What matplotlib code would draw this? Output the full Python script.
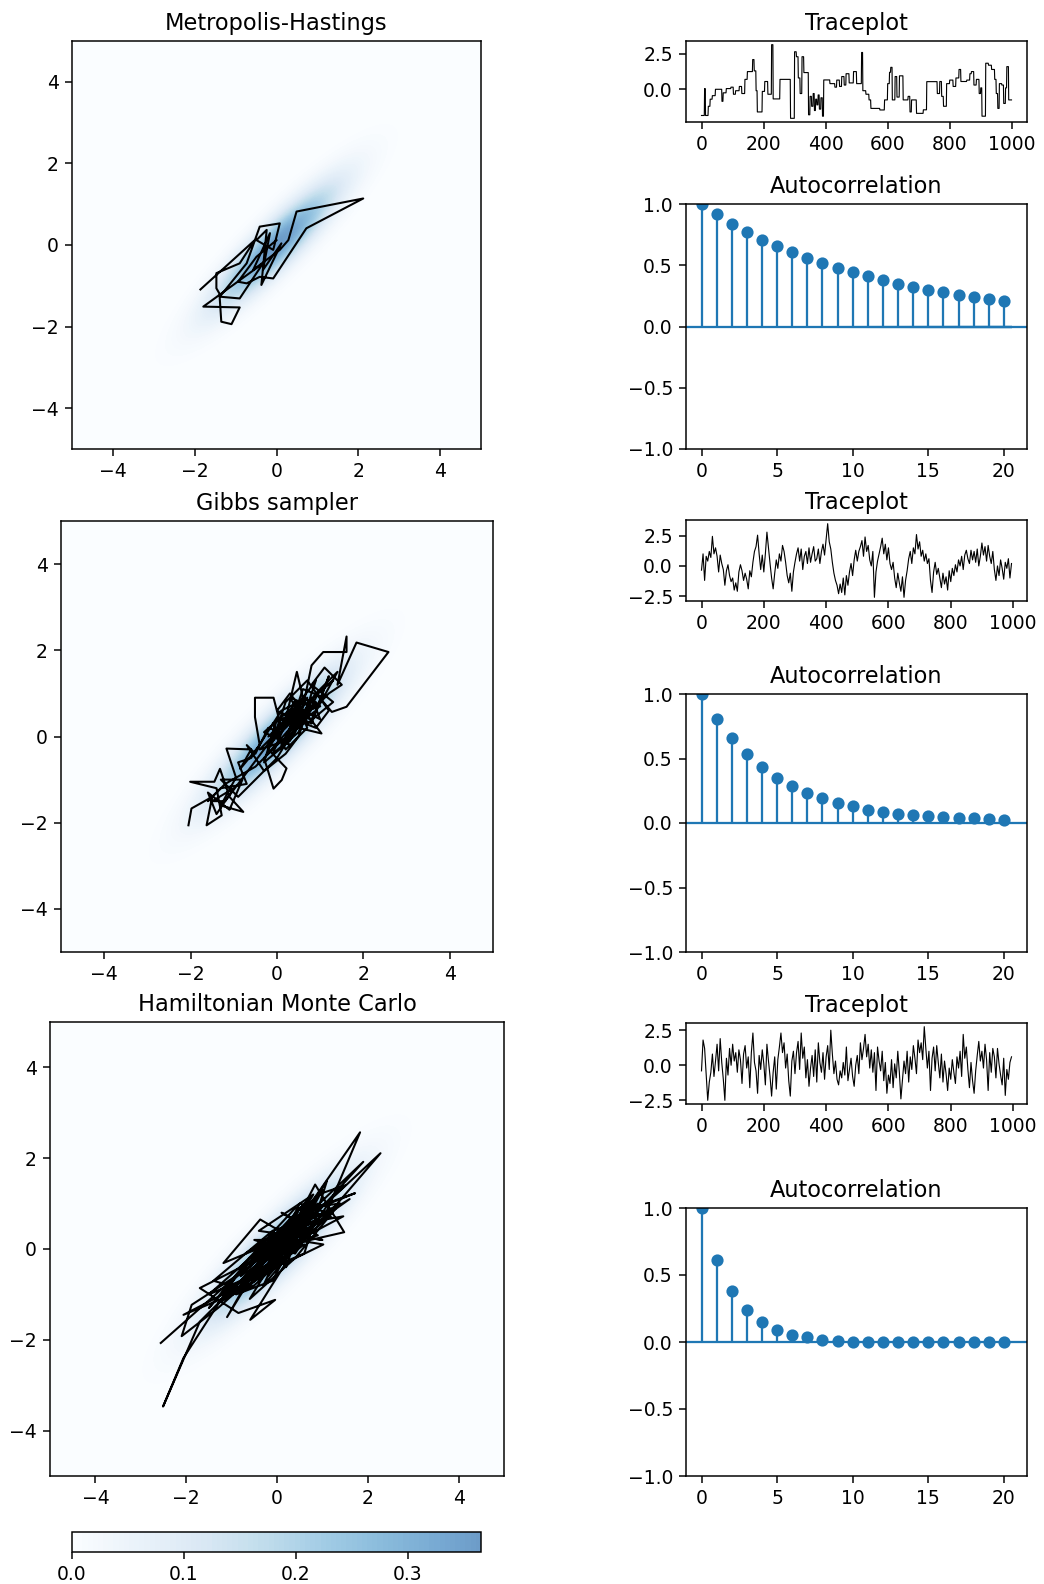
import numpy as np
import matplotlib
matplotlib.use("Agg")
import matplotlib.pyplot as plt
from matplotlib.colors import ListedColormap

# ---------------- data ----------------
titles = ["Metropolis-Hastings", "Gibbs sampler", "Hamiltonian Monte Carlo"]
rho = 0.9  # correlation of the bivariate normal target

# Metropolis-Hastings sample path (first part of the chain)
mh_path_x = [-1.86, -0.53, -0.90, -1.47, -1.47, -1.35, -0.90, -0.33, -1.79, -0.90,
             -1.10, -1.35, -1.39, -0.73, -0.41, 0.08, -0.08, -0.49, -0.24, -0.37,
             0.12, -0.33, -0.16, -0.57, 0.08, 0.29, 0.49, 2.12, 0.73, -0.08,
             -0.41, -0.73, -0.94, -0.49, 0.00]
mh_path_y = [-1.09, 0.12, -0.45, -0.69, -1.06, -1.27, -1.31, -0.45, -1.51, -1.53,
             -1.94, -1.88, -1.27, -0.45, 0.45, 0.53, -0.12, 0.12, 0.37, -0.98,
             0.04, -0.61, 0.29, -0.61, -0.12, 0.12, 0.82, 1.14, 0.41, -0.82,
             -0.78, -0.94, -0.90, -0.29, 0.12]

# Gibbs sample path
gibbs_path_x = [-2.05, -1.98, -1.50, -1.63, -1.28, -1.40, -2.01, -1.45, -1.32, -1.10,
                -0.78, -1.30, -0.95, -1.17, -0.60, -0.85, -0.40, -0.51, -0.51, -0.08,
                0.10, 0.30, -0.20, 0.22, 0.11, -0.08, -0.30, 0.40, 0.60, 0.46,
                0.20, 0.70, 1.03, 0.50, 0.80, 1.07, 1.61, 1.61, 1.40, 1.84,
                2.58, 1.61, 1.27, 0.90, 1.30, 0.60, 0.00, 0.30, -0.30, 0.50,
                0.10, -0.60, -0.90, -0.70, -1.30, -1.60, -1.20, -0.50, 0.10, 0.40,
                0.90, 0.60, 1.00, 1.40, 0.80, 0.30, -0.10, 0.20, 0.70, 0.50,
                0.20, 0.60, 0.30, 0.80, 0.40, 0.90, 0.10, 0.50, -0.20, 0.70,
                0.30, 1.10, 0.60, 0.20, -0.40, 0.40, 0.80, 1.20, 0.90, 0.50,
                0.00, -0.30, 0.30, 0.70, 1.00, 0.60, 0.20, -0.10, 0.50, 0.90,
                -1.20, -1.50, -1.00, -1.40, -1.60, -1.10, -0.80, -1.30, -0.90, -0.40,
                0.00, 0.30, 0.60, 0.90, 1.20, 1.50, 1.10, 0.80, 1.30, 0.70,
                0.40, 0.10, -0.20, -0.50, -0.70, -0.30, 0.20, 0.50, 0.80, 1.00,
                0.60, 0.30, 0.00, 0.40, 0.90, 1.20, 0.70, 0.20, -0.10, 0.50]
gibbs_path_y = [-2.06, -1.67, -1.40, -2.06, -1.83, -1.20, -1.05, -1.05, -0.75, -1.40,
                -1.75, -1.60, -0.95, -0.28, -0.30, -0.75, -0.20, 0.45, 0.90, 0.90,
                0.20, 0.60, -0.30, -0.74, -1.01, -1.21, -0.50, 0.30, 0.90, 1.50,
                0.40, 0.50, 0.07, 0.20, 1.65, 1.96, 1.96, 2.32, 1.20, 2.18,
                1.96, 0.69, 0.57, 1.00, 1.30, 0.70, 0.00, -0.20, 0.10, 0.80,
                0.60, -0.50, -0.60, -1.10, -1.20, -1.50, -1.10, -0.70, -0.10, 0.10,
                0.80, 0.30, 1.10, 1.50, 0.40, 0.50, 0.30, -0.30, 0.20, 0.70,
                0.50, 0.40, 0.90, 0.70, 0.10, 1.00, -0.20, 0.60, 0.00, 0.90,
                0.20, 0.90, 1.10, -0.10, -0.30, 0.50, 0.30, 1.40, 0.60, 0.30,
                0.40, -0.60, -0.10, 0.60, 0.70, 0.90, 0.30, -0.40, 0.10, 1.30,
                -1.50, -1.50, -1.20, -1.80, -1.30, -1.70, -1.00, -1.00, -1.40, -0.90,
                -0.50, 0.00, 0.50, 0.70, 1.00, 1.20, 1.60, 1.20, 0.80, 0.30,
                0.80, 0.10, 0.20, -0.40, -0.20, -0.80, -0.40, 0.00, 0.90, 0.40,
                0.60, 1.00, 0.60, 0.40, 0.20, 0.60, 1.30, 0.80, -0.10, 0.50]

# HMC sample path
hmc_path_x = [-2.56, -0.90, -2.06, -2.51, -1.70, -0.30, 0.50, -1.30, -2.10, -1.88,
              -0.60, 0.60, 1.83, 1.00, -0.20, -1.18, -0.37, 0.40, 1.02, 0.20,
              -0.59, -0.04, -0.85, -1.70, -0.20, 1.30, 2.28, 0.90, -0.50, -2.06,
              -1.00, 0.30, 1.90, 0.70, -0.40, 0.10, 1.46, 0.20, -0.80, -1.50,
              -0.60, 0.80, 1.72, 0.40, -0.30, -1.20, 0.00, 0.84, 1.48, 0.30,
              -0.70, -1.40, -0.10, 1.10, 0.50, -0.20, 0.60, -0.90, -0.10, 0.90,
              1.50, 0.20, -0.50, 0.40, 1.20, 0.00, -1.10, -0.30, 0.70, 0.30,
              -0.40, 0.80, -0.60, 0.10, 0.90, -0.20, 0.50, -0.80, 0.40, 1.20,
              -0.30, 0.20, 0.70, -1.00, 0.00, 0.60, -0.50, 1.00, 0.30,
              -1.20, 0.90, -0.30, 0.50, 1.40, -0.70, 0.20, -1.50, 0.60, 1.10,
              -0.10, 0.70, -0.90, 0.30, 1.00, -0.40, 0.80, -0.60, 0.40, 1.30,
              0.00, -1.30, 0.50, 0.10, 0.90, -0.20, 1.60, -0.80, 0.60, 0.20]
hmc_path_y = [-2.07, -0.60, -2.40, -3.47, -1.60, -0.20, 0.30, -1.30, -1.92, -1.23,
              -0.40, 0.80, 2.57, 0.60, 0.10, -0.31, 0.65, 0.20, 0.10, -0.30,
              -1.56, -1.12, -1.41, -0.86, -0.10, 1.20, 2.11, 0.50, -0.80, -1.45,
              -0.90, 0.40, 1.92, 0.60, -0.70, 0.00, 0.72, 0.50, -0.50, -1.30,
              -0.20, 0.90, 1.23, 0.70, -0.50, -1.10, -0.20, 1.42, 0.37, 0.10,
              -0.90, -0.70, 0.40, 0.80, 1.00, -0.40, 0.10, -1.00, -0.70, 1.20,
              1.40, 0.20, 0.20, -0.10, 1.10, 0.30, -1.50, -0.10, 0.40, 0.60,
              -0.10, 0.50, -0.80, 0.30, 1.00, -0.60, 0.20, -0.40, 0.90, 0.70,
              0.20, -0.40, 1.10, -0.70, 0.10, 0.40, -0.30, 1.30, 0.00,
              -1.00, 0.60, -0.80, 0.90, 1.00, -0.10, 0.50, -1.00, -0.10, 1.50,
              -0.30, 0.80, -0.90, 0.30, 0.20, 0.40, 1.20, -1.10, -0.20, 0.90,
              -0.40, -1.20, 0.60, 0.80, 0.30, 0.00, 1.10, -0.60, 1.00, -0.10]

# Metropolis-Hastings trace (run-length form: iteration where a value starts, value held)
mh_run_start = [0, 10, 13, 22, 28, 35, 45, 66, 70, 80, 95, 103, 110, 122, 130, 140, 148,
                165, 170, 176, 180, 196, 204, 214, 226, 231, 253, 287, 300, 306, 312,
                318, 324, 330, 345, 350, 355, 360, 364, 368, 372, 376, 380, 385, 390,
                394, 414, 430, 436, 445, 452, 460, 466, 476, 490, 500, 516, 520, 530,
                540, 546, 575, 590, 600, 606, 610, 615, 624, 630, 638, 650, 666, 672,
                677, 693, 715, 726, 760, 768, 774, 780, 790, 800, 811, 820, 830, 836,
                855, 865, 870, 878, 886, 895, 900, 904, 916, 925, 935, 945, 950, 955,
                960, 968, 974, 980, 984, 990]
mh_run_value = [-1.85, 0.05, -1.85, -1.2, -0.7, -0.45, 0.0, -0.85, -0.25, 0.05, 0.15, -0.35,
                -0.1, 0.2, -0.3, 0.7, 1.25, 2.1, 1.3, -0.1, -1.6, -0.15, 0.55, -0.35, 3.15,
                -0.68, 0.7, -2.05, 2.65, 2.3, 0.8, -0.3, 2.3, 1.18, -1.8, -0.5, -1.2, -0.3,
                -1.5, -0.7, -1.1, -0.4, -1.4, -0.6, -1.9, 0.66, 0.4, 0.15, 0.65, 0.2, 0.9,
                0.3, 1.1, 0.45, 1.25, 0.4, 2.6, -0.1, -0.35, -0.75, -1.35, -1.46, -0.75,
                0.4, 1.2, 1.55, -0.75, 0.9, -0.55, 0.95, -0.75, -0.5, -1.6, -0.75, -1.7,
                -1.45, 0.54, -0.3, 0.55, -0.5, -1.2, 0.4, 0.65, 0.2, 0.8, 1.4, 0.55, 0.65,
                1.1, 1.25, 0.3, 0.7, -0.3, 0.1, -1.9, 1.84, 1.7, 1.4, 0.7, -0.3, -1.35,
                0.4, 0.3, -1.0, 0.1, 1.6, -0.75]
n_iter = 1000

# Gibbs trace (every 5th iteration)
gibbs_trace = [
    -0.35, 1.0, -1.2, 0.8, 0.4, 1.2, 0.7, 2.45, 1.0, 1.5,
    0.8, -0.5, 0.9, 0.2, -0.3, -1.6, -0.4, 0.1, -0.8, -1.3,
    -1.0, -2.0, -1.4, -2.1, -0.5, 0.1, -0.4, -1.2, -0.6, -1.1,
    -1.9, -0.4, -0.9, 0.3, 1.2, 1.6, 2.55, 1.0, -0.3, 0.9,
    -0.5, 1.0, 2.8, 1.5, 0.2, -1.0, -1.9, -0.6, 0.5, -0.2,
    1.0, 0.4, 1.7, 1.2, 0.3, -0.8, -1.4, -0.6, -2.1, -0.5,
    0.3, 1.0, 1.5, 0.4, 1.4, -0.3, 0.8, 1.2, 0.2, 1.5,
    0.3, 1.0, 1.6, 0.4, 0.6, 1.4, 0.2, 1.2, 1.8, 0.9,
    2.2, 3.5, 2.0, 1.4, 0.3, -0.6, -1.2, -1.6, -2.3, -1.5,
    -2.2, -1.0, -2.4, -0.8, -1.6, -0.5, 0.2, -0.8, 0.5, 1.3,
    0.4, 1.2, 1.6, 2.1, 0.8, 2.4, 1.2, 1.7, 0.5, 0.0,
    1.2, -2.6, -0.5, 0.4, 1.0, 1.6, 2.3, 1.0, 1.8, 0.5,
    1.5, 0.2, -0.3, 0.3, -1.0, -1.8, -0.6, -1.4, -2.1, -0.9,
    -2.6, -1.2, -0.4, 0.6, 1.2, 0.2, 1.5, 1.0, 2.6, 1.4,
    2.0, 0.8, 1.3, 0.4, 1.0, 0.2, 0.6, -1.2, -2.2, -0.5,
    0.3, -0.7, -0.2, -1.0, -1.8, -0.6, -1.5, -0.9, -2.0, -0.4,
    -1.3, -0.2, -0.8, 0.1, -0.5, 0.5, 0.0, 0.8, -0.3, 0.9,
    1.3, 0.6, 0.2, 1.3, 0.5, 1.2, 0.3, 1.4, 0.0, 0.8,
    1.9, 0.9, 1.6, 0.4, 1.7, 0.8, 0.2, 1.2, -0.3, -1.2,
    0.0, -0.8, 0.5, -0.2, -1.1, 0.3, -0.2, 0.6, -1.0, 0.2]

# HMC trace (every 5th iteration)
hmc_trace = [
    -0.4, 1.8, 1.2, -0.6, -2.5, -1.2, -0.5, 0.8, -0.8, 0.3,
    1.5, -0.4, 1.9, 0.2, -1.0, -2.5, 0.5, -0.7, 1.2, 0.0,
    1.5, 0.3, 0.9, -0.5, 1.1, 0.4, -1.3, 0.8, 1.4, -0.2,
    0.6, -1.6, 0.9, 2.3, 0.2, -0.4, -2.0, 0.7, -0.3, 1.1,
    0.1, -1.4, 1.5, 0.3, -0.8, -2.2, -0.5, 0.6, -1.7, 0.4,
    1.3, 2.3, 0.9, 1.6, -0.2, 0.8, -1.1, -2.2, 0.3, 1.0,
    -0.6, 0.9, 1.7, -0.3, 2.3, 0.5, 1.3, -0.9, 0.4, -1.5,
    -0.2, 0.7, -0.8, 1.1, -1.2, 1.6, 0.2, -0.5, 0.9, -1.0,
    0.6, 1.4, -0.3, 2.5, 0.8, -0.6, 0.3, -1.0, -1.4, -0.4,
    -0.9, 0.2, -0.7, 1.3, -1.1, -0.3, 0.5, -0.8, -1.5, 0.0,
    0.7, -0.6, 1.6, 0.4, 1.2, 2.2, 0.6, 1.5, -0.2, 1.1,
    -0.5, 0.9, -1.8, 1.3, 0.3, -0.4, 1.0, -1.1, 0.2, -2.0,
    -0.7, -1.3, 0.4, -1.6, 0.1, -0.9, 1.0, -0.5, -2.4, -1.0,
    0.3, -0.6, 1.0, -1.2, 0.6, -0.3, 1.4, 0.5, -0.6, 1.8,
    0.9, 1.6, 0.4, 2.75, 1.2, -0.2, 1.0, -1.8, 0.5, 1.3,
    -0.4, 1.4, 0.2, -0.9, 0.8, -1.2, 0.3, -0.6, -1.8, -0.2,
    -1.0, 0.4, -0.5, -1.3, 0.6, -0.2, 1.0, -0.8, 2.2, 0.5,
    1.3, -0.3, -1.6, 0.2, -1.1, -2.0, -0.4, 0.7, 1.7, 0.3,
    1.0, -0.2, 1.5, 0.4, -1.8, 0.9, -0.5, 1.2, 0.6, -0.9,
    1.2, 0.1, -0.7, -1.4, 0.5, -2.15, -0.3, -1.0, 0.2, 0.6]
trace_step = 5

# autocorrelation, lags 0..20
mh_acf = [1.0, 0.916, 0.84, 0.772, 0.707, 0.655, 0.606, 0.56, 0.516, 0.478, 0.443,
          0.41, 0.38, 0.35, 0.323, 0.30, 0.28, 0.258, 0.242, 0.226, 0.21]
gibbs_acf = [1.0, 0.81, 0.657, 0.532, 0.434, 0.35, 0.286, 0.234, 0.195, 0.156, 0.13,
             0.104, 0.086, 0.073, 0.062, 0.055, 0.047, 0.042, 0.036, 0.031, 0.023]
hmc_acf = [1.0, 0.61, 0.383, 0.236, 0.149, 0.09, 0.055, 0.035, 0.017, 0.005, -0.002,
           -0.002, -0.003, -0.002, -0.003, -0.002, 0.0, 0.002, 0.001, 0.0, -0.002]
# confidence band half-widths, lags 1..20
mh_band = [0.001, 0.002, 0.003, 0.004, 0.005, 0.006, 0.007, 0.008, 0.009, 0.010,
           0.011, 0.012, 0.012, 0.013, 0.014, 0.014, 0.015, 0.015, 0.016, 0.016]
gibbs_band = [0.001, 0.001, 0.002, 0.002, 0.002, 0.003, 0.003, 0.003, 0.003, 0.003,
              0.003, 0.003, 0.003, 0.003, 0.003, 0.003, 0.003, 0.003, 0.003, 0.003]
hmc_band = [0.001, 0.001, 0.001, 0.002, 0.002, 0.002, 0.002, 0.002, 0.002, 0.002,
            0.002, 0.002, 0.002, 0.002, 0.002, 0.002, 0.002, 0.002, 0.002, 0.002]

cbar_ticks = [0.0, 0.1, 0.2, 0.3]

# ---------------- layout (pixel boxes x0, y0, x1, y1) ----------------
W, H = 1044, 1584
DPI = 135
left_boxes = [(72, 41, 481, 449), (61, 521, 493, 952), (50, 1022, 504, 1476)]
trace_boxes = [(686, 41, 1027, 122), (686, 520, 1027, 601), (686, 1023, 1027, 1104)]
acf_boxes = [(686, 204, 1027, 449), (686, 694, 1027, 952), (686, 1208, 1027, 1476)]
cbar_box = (72, 1532, 481, 1552)


def rect(box):
    x0, y0, x1, y1 = box
    return [x0 / W, 1 - y1 / H, (x1 - x0) / W, (y1 - y0) / H]


# colormap: Blues, lightened (the original shows a speckled, lighter rendering)
base = plt.get_cmap("Blues")(np.linspace(0.0, 0.82, 256))
mix = base * 0.62 + 0.38
mix[:, 3] = 1.0
cmap = ListedColormap(mix)

# target density
g = np.linspace(-5, 5, 301)
GX, GY = np.meshgrid(g, g)
Z = np.exp(-(GX ** 2 - 2 * rho * GX * GY + GY ** 2) / (2 * (1 - rho ** 2))) / (
    2 * np.pi * np.sqrt(1 - rho ** 2))
levels = np.linspace(0, Z.max(), 80)

fig = plt.figure(figsize=(W / DPI, H / DPI), dpi=DPI)

mh_trace = np.repeat(mh_run_value, np.diff(np.append(mh_run_start, n_iter)))
paths = [(mh_path_x, mh_path_y), (gibbs_path_x, gibbs_path_y), (hmc_path_x, hmc_path_y)]
traces = [(np.arange(n_iter), mh_trace),
          (np.arange(len(gibbs_trace)) * trace_step, gibbs_trace),
          (np.arange(len(hmc_trace)) * trace_step, hmc_trace)]
acfs = [(mh_acf, mh_band), (gibbs_acf, gibbs_band), (hmc_acf, hmc_band)]

cs = None
for i in range(3):
    ax = fig.add_axes(rect(left_boxes[i]))
    cs = ax.contourf(GX, GY, Z, levels=levels, cmap=cmap)
    ax.plot(paths[i][0], paths[i][1], color="k", lw=1.1)
    ax.set_xlim(-5, 5)
    ax.set_ylim(-5, 5)
    ax.set_xticks([-4, -2, 0, 2, 4])
    ax.set_yticks([-4, -2, 0, 2, 4])
    ax.set_title(titles[i], fontsize=12)

    axt = fig.add_axes(rect(trace_boxes[i]))
    axt.plot(traces[i][0], traces[i][1], color="k", lw=0.6)
    axt.set_title("Traceplot", fontsize=12)
    axt.set_xticks([0, 200, 400, 600, 800, 1000])

    axa = fig.add_axes(rect(acf_boxes[i]))
    acf, band = acfs[i]
    lags = np.arange(len(acf))
    axa.vlines(lags, 0, acf, color="C0", lw=1.2)
    axa.axhline(0, color="C0", lw=1.2)
    axa.margins(0.05)
    axa.plot(lags, acf, "o", color="C0", ms=5.5)
    blags = lags[1:].astype(float)
    blags[0] -= 0.5
    blags[-1] += 0.5
    axa.fill_between(blags, -np.array(band), np.array(band), color="C0", alpha=0.25, lw=0)
    axa.set_ylim(-1, 1)
    axa.set_yticks([-1.0, -0.5, 0.0, 0.5, 1.0])
    axa.set_xticks([0, 5, 10, 15, 20])
    axa.set_title("Autocorrelation", fontsize=12)

cax = fig.add_axes(rect(cbar_box))
cb = fig.colorbar(cs, cax=cax, orientation="horizontal")
cb.set_ticks(cbar_ticks)

fig.savefig("out.png", dpi=DPI)
